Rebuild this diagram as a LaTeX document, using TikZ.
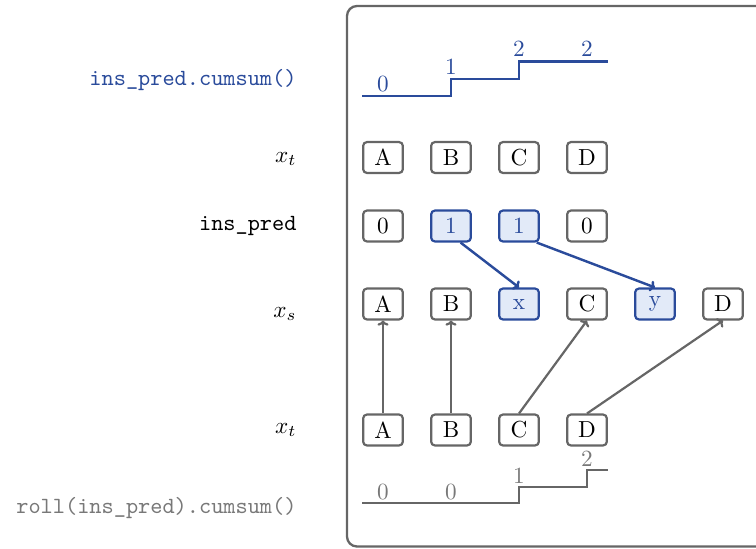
\documentclass[tikz,border=0pt]{standalone}
\usetikzlibrary{arrows.meta}
\definecolor{myblue}{HTML}{2A4B9B}
\definecolor{myfill}{HTML}{E2EAF8}
\definecolor{mygray}{HTML}{666666}
\definecolor{mygrayt}{HTML}{787878}
\begin{document}
\begin{tikzpicture}[x=0.431pt,y=-0.431pt,
  box/.style={draw=mygray, line width=0.95pt, rounded corners=1.6pt, minimum width=17.1pt, minimum height=13.3pt, inner sep=0pt, fill=white},
  hbox/.style={box, draw=myblue, fill=myfill, text=myblue},
  garr/.style={draw=mygray, line width=0.95pt, -{To[length=2.2pt,width=4.8pt]}},
  barr/.style={draw=myblue, line width=1.05pt, -{To[length=2.2pt,width=4.8pt]}},
  lab/.style={anchor=base east, inner sep=0pt},
  stepb/.style={anchor=base, inner sep=0pt, text=myblue},
  stepg/.style={anchor=base, inner sep=0pt, text=mygrayt}]
\useasboundingbox (0,0) rectangle (756,548);
\clip (0,0) rectangle (756,548);
\draw[mygray, line width=1pt, rounded corners=4.3pt] (347,6) rectangle (830,546.5);

% left labels
\node[lab, text=myblue] (l1) at (297,85) {\texttt{ins\_pred.cumsum()}};
\node[lab] (l2) at (297,162) {$x_t$};
\node[lab] (l3) at (297,230) {\texttt{ins\_pred}};
\node[lab] (l4) at (297,317) {$x_s$};
\node[lab] (l5) at (297,433) {$x_t$};
\node[lab, text=mygrayt] (l6) at (297,513) {\texttt{roll(ins\_pred).cumsum()}};

% top step plot
\draw[myblue, line width=1.15pt] (362,96) -- (451,96) -- (451,79) -- (519,79) -- (519,61.3) -- (608,61.3);
\node[stepb] (c0) at (383,91.5) {0};
\node[stepb] (c1) at (451,74.5) {1};
\node[stepb] (c2) at (519,56.8) {2};
\node[stepb] (c3) at (587,56.8) {2};

% x_t row
\node[box] (tA) at (383,157.5) {A};
\node[box] (tB) at (451,157.5) {B};
\node[box] (tC) at (519,157.5) {C};
\node[box] (tD) at (587,157.5) {D};

% ins_pred row
\node[box] (p1) at (383,226) {0};
\node[hbox] (p2) at (451,226) {1};
\node[hbox] (p3) at (519,226) {1};
\node[box] (p4) at (587,226) {0};

% x_s row
\node[box] (sA) at (383,304) {A};
\node[box] (sB) at (451,304) {B};
\node[hbox] (sx) at (519,304) {x};
\node[box] (sC) at (587,304) {C};
\node[hbox] (sy) at (655,304) {y};
\node[box] (sD) at (723,304) {D};

% bottom x_t row
\node[box] (bA) at (383,430) {A};
\node[box] (bB) at (451,430) {B};
\node[box] (bC) at (519,430) {C};
\node[box] (bD) at (587,430) {D};

% arrows
\draw[barr] (p2.300) -- (sx.north);
\draw[barr] (p3.317) -- (sy.north);
\draw[garr] (bA.north) -- (sA.south);
\draw[garr] (bB.north) -- (sB.south);
\draw[garr] (bC.north) -- (sC.south);
\draw[garr] (bD.north) -- (sD.south);

% bottom step plot
\draw[mygray, line width=0.95pt] (362,503.3) -- (519,503.3) -- (519,486.7) -- (587,486.7) -- (587,470) -- (608,470);
\node[stepg] (d0) at (383,499.8) {0};
\node[stepg] (d1) at (451,499.8) {0};
\node[stepg] (d2) at (519,483.2) {1};
\node[stepg] (d3) at (587,466.5) {2};
\end{tikzpicture}
\end{document}
